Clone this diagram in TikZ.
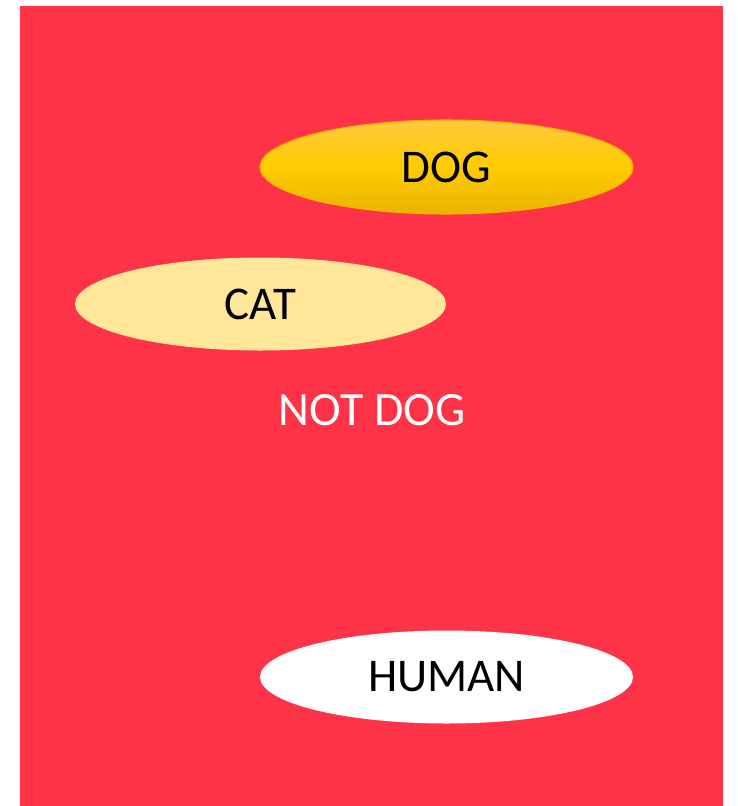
\documentclass[tikz,border=0pt]{standalone}
\usepackage{fontspec}
\setmainfont{Carlito}
\usetikzlibrary{shapes.geometric}
\definecolor{bgred}{HTML}{FF3347}
\definecolor{dogtop}{HTML}{FFC93E}
\definecolor{dogmid}{HTML}{FFCC00}
\definecolor{dogbot}{HTML}{E8B400}
\definecolor{dogline}{HTML}{F5B000}
\definecolor{catfill}{HTML}{FFE699}
\tikzset{
  blob/.style={ellipse, inner sep=0pt, minimum width=373*0.02cm, minimum height=94*0.02cm,
    font=\fontsize{26.7}{30}\selectfont},
  caption/.style={font=\fontsize{27.2}{30}\selectfont, text=white, inner sep=0pt}
}
\begin{document}
\begin{tikzpicture}[x=0.02cm, y=-0.02cm]
  % canvas and red field
  \useasboundingbox (0,0) rectangle (738,806);
  \fill[bgred] (20,6) rectangle (723,806);
  % categories
  \node[blob, draw=dogline, line width=0.6pt, top color=dogtop, bottom color=dogbot, middle color=dogmid] (dog) at (446.5,167) {DOG};
  \node[blob, fill=catfill, minimum width=371*0.02cm, minimum height=93*0.02cm] (cat) at (260.5,304) {CAT};
  \node[caption] (notdog) at (372,410) {NOT DOG};
  \node[blob, fill=white, minimum height=93*0.02cm] (human) at (446.5,677) {HUMAN};
\end{tikzpicture}
\end{document}
